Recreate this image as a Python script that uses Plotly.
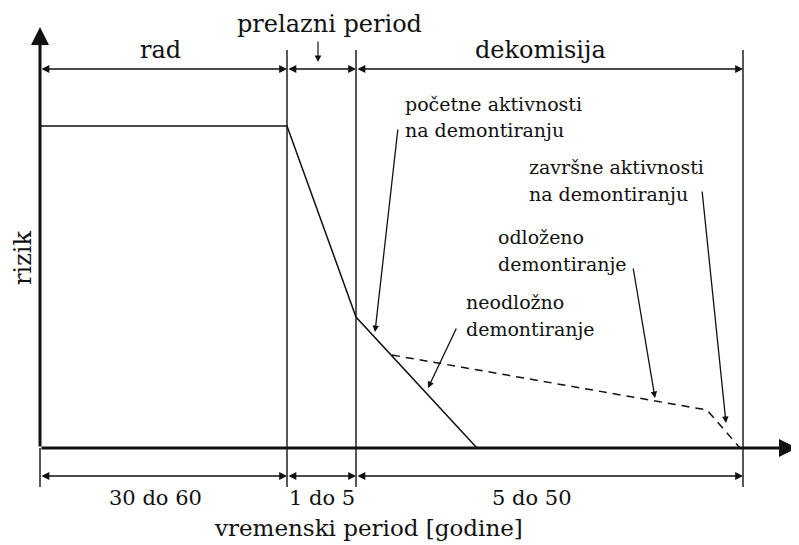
import plotly.graph_objects as go

# ---- data (schematic units: x = time, y = risk) ----
phase_bounds_x = [0, 247, 316, 703]
phase_labels = ["rad", "prelazni period", "dekomisija"]
duration_labels = ["30 do 60", "1 do 5", "5 do 50"]
immediate_x = [0, 247, 316, 437]
immediate_y = [322, 322, 131, 0]
deferred_x = [352, 667, 700]
deferred_y = [93, 38, 0]
x_axis_title = "vremenski period [godine]"
y_axis_title = "rizik"

FONT = "DejaVu Serif"
BLACK = "#111111"

fig = go.Figure()

# boundary lines
for bx in phase_bounds_x[1:]:
    fig.add_trace(go.Scatter(x=[bx, bx], y=[-39, 398], mode="lines",
                             line=dict(color=BLACK, width=1.4), hoverinfo="skip"))
fig.add_trace(go.Scatter(x=[0, 0], y=[-39, 0], mode="lines",
                         line=dict(color=BLACK, width=1.4), hoverinfo="skip"))

# risk curves
fig.add_trace(go.Scatter(x=immediate_x, y=immediate_y, mode="lines",
                         line=dict(color=BLACK, width=1.5), hoverinfo="skip"))
fig.add_trace(go.Scatter(x=deferred_x, y=deferred_y, mode="lines",
                         line=dict(color=BLACK, width=1.5, dash="8px,6px"), hoverinfo="skip"))

ann = []

def arrow(x0, y0, x1, y1, width=1.3, size=1.0, head=2, side="end"):
    ann.append(dict(x=x1, y=y1, ax=x0, ay=y0, xref="x", yref="y", axref="x", ayref="y",
                    text="", showarrow=True, arrowhead=head, startarrowhead=head,
                    arrowside=side, arrowwidth=width, arrowsize=size,
                    startarrowsize=size, arrowcolor=BLACK))

def label(x, y, text, size, xanchor="center", textangle=0):
    ann.append(dict(x=x, y=y, xref="x", yref="y", text=text, showarrow=False,
                    xanchor=xanchor, yanchor="middle", textangle=textangle,
                    font=dict(family=FONT, size=size, color=BLACK)))

# axes
arrow(0, 0, 0, 421, width=3, size=1.2)
arrow(0, 0, 757, 0, width=3, size=1.2)

# dimension lines (top and bottom)
for i in range(3):
    arrow(phase_bounds_x[i], 379, phase_bounds_x[i + 1], 379, width=1.3, size=1.2, side="end+start")
    arrow(phase_bounds_x[i], -28, phase_bounds_x[i + 1], -28, width=1.3, size=1.2, side="end+start")

# phase labels
label(120, 398, phase_labels[0], 24)
label(289, 424, phase_labels[1], 24)
label(500, 398, phase_labels[2], 24)
arrow(278, 408, 278, 386, width=1.2, size=1.1)

# duration labels
for lx, lab in zip([115, 282, 492], duration_labels):
    label(lx, -50, lab, 21)

label(328, -80, x_axis_title, 23)
label(-17, 190, y_axis_title, 24, textangle=-90)

# pointer annotations
txt = 19
label(363, 344, "početne aktivnosti", txt, xanchor="left")
label(363, 318, "na demontiranju", txt, xanchor="left")
arrow(358, 320, 335, 116)

label(487, 281, "završne aktivnosti", txt, xanchor="left")
label(487, 254, "na demontiranju", txt, xanchor="left")
arrow(662, 258, 686, 25)

label(456, 211, "odloženo", txt, xanchor="left")
label(456, 184, "demontiranje", txt, xanchor="left")
arrow(593, 181, 615, 50)

label(424, 146, "neodložno", txt, xanchor="left")
label(424, 119, "demontiranje", txt, xanchor="left")
arrow(417, 121, 388, 60)

# page body has an 8px margin: size and ranges compensate for it
fig.update_layout(
    width=791, height=537,
    margin=dict(l=0, r=0, t=0, b=0),
    paper_bgcolor="white", plot_bgcolor="white",
    showlegend=False,
    xaxis=dict(range=[-32, 759], visible=False, fixedrange=True),
    yaxis=dict(range=[-97, 440], visible=False, fixedrange=True),
    annotations=ann,
)

fig.write_html("out.html", config={"displayModeBar": False})
